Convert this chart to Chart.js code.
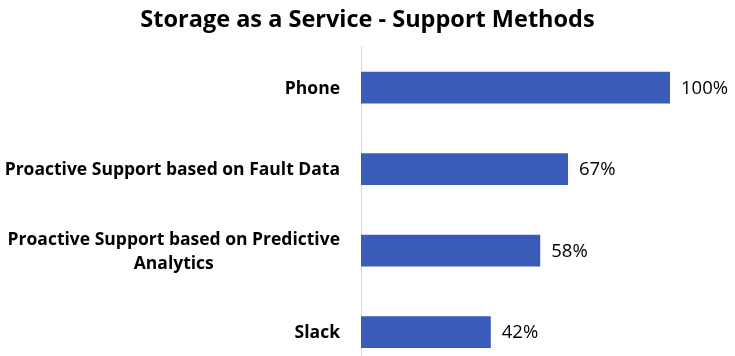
<!DOCTYPE html>
<html>
<head>
<meta charset="utf-8">
<script src="https://cdn.jsdelivr.net/npm/chart.js@4"></script>
<style>
  html, body { margin: 0; padding: 0; overflow: hidden; background: #fff; }
  #wrap { position: relative; width: 735px; height: 373px; }
</style>
</head>
<body>
<div id="wrap"><canvas id="c"></canvas></div>
<script>
const categories = [
  ["Phone"],
  ["Proactive Support based on Fault Data"],
  ["Proactive Support based on Predictive", "Analytics"],
  ["Slack"]
];
const values = [100, 67, 58, 42];
const valueLabels = ["100%", "67%", "58%", "42%"];
const chartTitle = "Storage as a Service - Support Methods";

const FONT = "'Open Sans', sans-serif";

const labelPlugin = {
  id: 'customLabels',
  afterDatasetsDraw(chart) {
    const ctx = chart.ctx;
    const yScale = chart.scales.y;
    const meta = chart.getDatasetMeta(0);
    ctx.save();
    // title
    ctx.font = "bold 23.5px " + FONT;
    ctx.fillStyle = "#000";
    ctx.textAlign = "center";
    ctx.textBaseline = "middle";
    ctx.fillText(chartTitle, chart.width / 2, 20);
    // value labels
    ctx.font = "18.5px " + FONT;
    ctx.textAlign = "left";
    meta.data.forEach((bar, i) => {
      ctx.fillText(valueLabels[i], bar.x + 11, bar.y + 1);
    });
    // category labels
    ctx.font = "bold 17.5px " + FONT;
    const rightEdge = chart.chartArea.left - 21;
    const lineH = 24;
    categories.forEach((lines, i) => {
      const yc = yScale.getPixelForValue(i);
      const widths = lines.map(l => ctx.measureText(l).width);
      const maxW = Math.max(...widths);
      const cx = rightEdge - maxW / 2;
      ctx.textAlign = "center";
      const startY = yc - (lines.length - 1) * lineH / 2;
      lines.forEach((l, j) => {
        ctx.fillText(l, cx, startY + j * lineH + 1);
      });
    });
    ctx.restore();
  }
};

new Chart(document.getElementById('c'), {
  type: 'bar',
  data: {
    labels: categories,
    datasets: [{
      data: values,
      backgroundColor: '#3a5bb7',
      borderWidth: 0,
      categoryPercentage: 1.0,
      barPercentage: 0.39
    }]
  },
  options: {
    indexAxis: 'y',
    responsive: true,
    maintainAspectRatio: false,
    animation: false,
    layout: { padding: { left: 0, right: 65, top: 46.75, bottom: 0 } },
    plugins: {
      legend: { display: false },
      tooltip: { enabled: false },
      title: { display: false }
    },
    scales: {
      x: {
        min: 0, max: 100,
        display: false
      },
      y: {
        grid: { display: false },
        border: { display: true, color: '#d9d9d9', width: 1 },
        ticks: { display: false },
        afterFit(scale) { scale.width = 361; }
      }
    }
  },
  plugins: [labelPlugin]
});
</script>
</body>
</html>
